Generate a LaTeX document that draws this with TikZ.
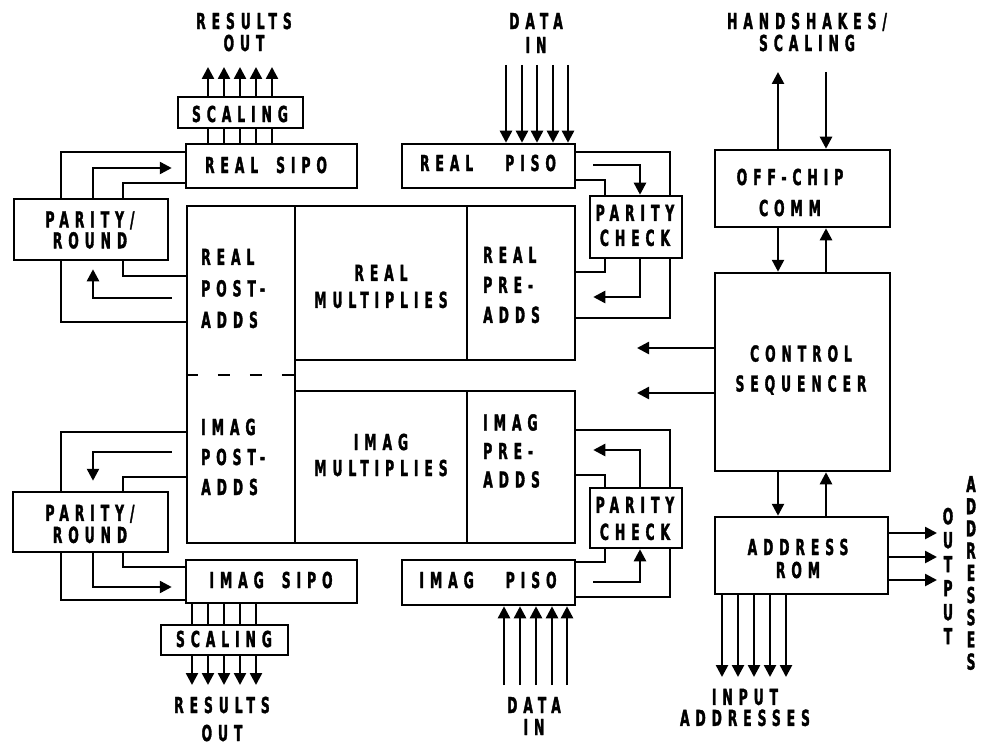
\documentclass[tikz,border=0pt]{standalone}
\usepackage{fontspec}
\newfontfamily\lblfont{DejaVu Sans}[FakeStretch=0.56,LetterSpace=27,FakeBold=1.5]
\usetikzlibrary{arrows.meta}
\tikzset{
  box/.style={draw, rectangle, inner sep=0pt},
  arr/.style={-{Triangle[length=12pt,width=12pt]}},
  lb/.style={font=\lblfont\bfseries\fontsize{22pt}{#1}\selectfont, align=center, inner sep=0pt},
  lb/.default=22pt,
  postdash/.style={dash pattern=on 12pt off 20pt}
}
\begin{document}
\begin{tikzpicture}[x=1pt,y=-1pt,line width=2.5pt]
\path[use as bounding box, fill=white] (0,0) rectangle (981,751);

% boxes
\node[box, minimum width=125pt, minimum height=31pt] (scaleT) at (240.5,112.5) {};
\node[box, minimum width=171pt, minimum height=44pt] (sipoR) at (271.5,166) {};
\node[box, minimum width=173pt, minimum height=44pt] (pisoR) at (488.5,166) {};
\node[box, minimum width=154pt, minimum height=61pt] (prT) at (91,229.5) {};
\node[box, minimum width=92pt, minimum height=62pt] (pcT) at (636,227) {};
\node[box, minimum width=108pt, minimum height=337pt] (post) at (241,374.5) {};
\node[box, minimum width=172pt, minimum height=154pt] (mulR) at (381,283) {};
\node[box, minimum width=108pt, minimum height=154pt] (preR) at (521,283) {};
\node[box, minimum width=172pt, minimum height=152pt] (mulI) at (381,467) {};
\node[box, minimum width=108pt, minimum height=152pt] (preI) at (521,467) {};
\node[box, minimum width=155pt, minimum height=60pt] (prB) at (90.5,522) {};
\node[box, minimum width=92pt, minimum height=60pt] (pcB) at (636,518) {};
\node[box, minimum width=171pt, minimum height=43pt] (sipoI) at (271.5,581.5) {};
\node[box, minimum width=173pt, minimum height=45pt] (pisoI) at (488.5,582.5) {};
\node[box, minimum width=127pt, minimum height=30pt] (scaleB) at (224.5,640) {};
\node[box, minimum width=175pt, minimum height=77pt] (offc) at (802.5,188.5) {};
\node[box, minimum width=175pt, minimum height=198pt] (ctrl) at (802.5,372) {};
\node[box, minimum width=173pt, minimum height=77pt] (rom) at (801.5,555.5) {};

% dashed divider in post-adds column
\draw[postdash] (post.west |- 0,375) -- (post.east |- 0,375);

% top-left parity/round connections
\draw (sipoR.west |- 0,152) -| (prT.north -| 61,0);
\draw (prT.south -| 61,0) |- (post.west |- 0,322);
\draw[arr, shorten >=13pt] (prT.north -| 93,0) |- (sipoR.west |- 0,168);
\draw (prT.north -| 123,0) |- (sipoR.west |- 0,183);
\draw (prT.south -| 123,0) |- (post.west |- 0,276);
\draw[arr, shorten <=14pt, shorten >=8pt] (post.west |- 0,298) -| (prT.south -| 93,0);

% bottom-left parity/round connections
\draw (post.west |- 0,432) -| (prB.north -| 61,0);
\draw[arr, shorten <=14pt, shorten >=10pt] (post.west |- 0,452) -| (prB.north -| 93,0);
\draw (post.west |- 0,477) -| (prB.north -| 123,0);
\draw (prB.south -| 123,0) |- (sipoI.west |- 0,567);
\draw[arr, shorten >=13pt] (prB.south -| 93,0) |- (sipoI.west |- 0,587);
\draw (prB.south -| 61,0) |- (sipoI.west |- 0,600);

% top-right parity check connections
\draw (pisoR.east |- 0,152) -| (pcT.north -| 670,0);
\draw[arr, shorten <=17pt] (pisoR.east |- 0,165) -| (pcT.north -| 640,0);
\draw (pisoR.east |- 0,180) -| (pcT.north -| 605,0);
\draw (pcT.south -| 605,0) |- (preR.east |- 0,272);
\draw[arr, shorten >=17pt] (pcT.south -| 640,0) |- (preR.east |- 0,297);
\draw (pcT.south -| 670,0) |- (preR.east |- 0,318);

% bottom-right parity check connections
\draw (preI.east |- 0,430) -| (pcB.north -| 670,0);
\draw[arr, shorten >=17pt] (pcB.north -| 640,0) |- (preI.east |- 0,450);
\draw (preI.east |- 0,475) -| (pcB.north -| 605,0);
\draw (pcB.south -| 605,0) |- (pisoI.east |- 0,562);
\draw[arr, shorten <=17pt] (pisoI.east |- 0,582) -| (pcB.south -| 640,0);
\draw (pcB.south -| 670,0) |- (pisoI.east |- 0,597);

% right column
\draw[arr] (offc.south -| 778,0) -- (ctrl.north -| 778,0);
\draw[arr] (ctrl.north -| 826,0) -- (offc.south -| 826,0);
\draw[arr] (ctrl.south -| 778,0) -- (rom.north -| 778,0);
\draw[arr] (rom.north -| 826,0) -- (ctrl.south -| 826,0);
\coordinate (hs1) at (778,72);
\coordinate (hs2) at (826,72);
\draw[arr] (offc.north -| hs1) -- (hs1);
\draw[arr] (hs2) -- (offc.north -| hs2);
\coordinate (cs1) at (637,348);
\coordinate (cs2) at (637,393);
\draw[arr] (ctrl.west |- cs1) -- (cs1);
\draw[arr] (ctrl.west |- cs2) -- (cs2);
\foreach \y [count=\i] in {533,557,580} {
  \coordinate (oa\i) at (937,\y);
  \draw[arr] (rom.east |- oa\i) -- (oa\i);
}
\foreach \x [count=\i] in {722,738,754,770,786} {
  \coordinate (ia\i) at (\x,677);
  \draw[arr] (rom.south -| ia\i) -- (ia\i);
}

% data in
\foreach \x [count=\i] in {506,522,537,553,568} {
  \coordinate (dt\i) at (\x,65);
  \draw[arr] (dt\i) -- (pisoR.north -| dt\i);
}
\foreach \x [count=\i] in {504,520,536,552,567} {
  \coordinate (db\i) at (\x,685);
  \draw[arr] (db\i) -- (pisoI.south -| db\i);
}

% scaling buses
\foreach \x [count=\i] in {208,224,240,256,272} {
  \draw (sipoR.north -| \x,0) -- (scaleT.south -| \x,0);
  \coordinate (rt\i) at (\x,67);
  \draw[arr] (scaleT.north -| rt\i) -- (rt\i);
}
\foreach \x [count=\i] in {192,208,224,240,256} {
  \draw (sipoI.south -| \x,0) -- (scaleB.north -| \x,0);
  \coordinate (rb\i) at (\x,685);
  \draw[arr] (scaleB.south -| rb\i) -- (rb\i);
}

% labels
\node[lb=22pt] (tRo) at (244,32) {RESULTS\\OUT};
\node[lb=24pt] (tDi) at (536,33) {DATA\\IN};
\node[lb=22pt] (tHs) at (807,32) {HANDSHAKES/\\SCALING};
\node[lb] (tScT) at (240,114) {SCALING};
\node[lb] (tSipoR) at (266,165) {REAL\hspace{18pt}SIPO};
\node[lb] (tPisoR) at (488,163) {REAL\hspace{32pt}PISO};
\node[lb=21pt] (tPrT) at (90,230) {PARITY/\\ROUND};
\node[lb=25pt] (tPcT) at (635,225.5) {PARITY\\CHECK};
\node[lb=31.5pt, align=left, anchor=west] (tPostR) at (200,288.5) {REAL\\POST-\\ADDS};
\node[lb=27pt] (tMulR) at (381,286.5) {REAL\\MULTIPLIES};
\node[lb=30pt, align=left, anchor=west] (tPreR) at (482,285) {REAL\\PRE-\\ADDS};
\node[lb=30pt, align=left, anchor=west] (tPostI) at (200,457) {IMAG\\POST-\\ADDS};
\node[lb=26pt] (tMulI) at (381,455) {IMAG\\MULTIPLIES};
\node[lb=28.5pt, align=left, anchor=west] (tPreI) at (482,451) {IMAG\\PRE-\\ADDS};
\node[lb=22pt] (tPrB) at (90,524) {PARITY/\\ROUND};
\node[lb=27pt] (tPcB) at (635,518.5) {PARITY\\CHECK};
\node[lb] (tSipoI) at (271,580) {IMAG\hspace{18pt}SIPO};
\node[lb] (tPisoI) at (488,580) {IMAG\hspace{32pt}PISO};
\node[lb] (tScB) at (224,639) {SCALING};
\node[lb=28pt] (tRoB) at (222,719) {RESULTS\\OUT};
\node[lb=22pt] (tDiB) at (534,716) {DATA\\IN};
\node[lb=31pt] (tOffc) at (790,192.5) {OFF-CHIP\\COMM};
\node[lb=30pt] (tCtrl) at (801,370) {CONTROL\\SEQUENCER};
\node[lb=23pt] (tRom) at (798,558.5) {ADDRESS\\ROM};
\node[lb=21pt] (tIa) at (745,707.5) {INPUT\\ADDRESSES};
\node[lb=24pt] (tOut) at (948,576) {O\\U\\T\\P\\U\\T};
\node[lb=22.2pt] (tAdr) at (971,573) {A\\D\\D\\R\\E\\S\\S\\E\\S};
\end{tikzpicture}
\end{document}
